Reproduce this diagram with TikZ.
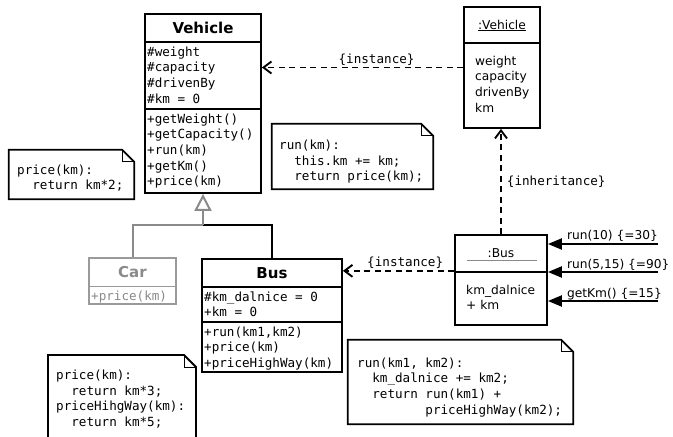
\documentclass[tikz,border=0pt]{standalone}
\usepackage{fontspec}
\setmainfont{DejaVu Sans}
\newfontfamily\mono{DejaVu Sans Mono}
\usetikzlibrary{arrows.meta,calc}

\newcommand\codefont{\mono\fontsize{12.6}{15.7}\selectfont}
\newcommand\sansfont{\fontsize{12.2}{15.7}\selectfont}
\newcommand\titlefont{\bfseries\fontsize{15}{18}\selectfont}

% folded-corner outline around an (invisible) note node
\newcommand\drawnote[1]{%
  \draw[noteline] (#1.south west) -- (#1.north west) -- ([xshift=-12pt]#1.north east)
    -- ([yshift=-12pt]#1.north east) -- (#1.south east) -- cycle;
  \draw[foldline] ([xshift=-12pt]#1.north east) |- ([yshift=-12pt]#1.north east);}

\definecolor{ghost}{HTML}{8A8A8A}
\definecolor{ghostline}{HTML}{9A9A9A}

% multi-line text nodes are placed by the baseline of their last line
\tikzset{
  box/.style={draw, line width=1.8pt, inner sep=0pt, fill=white},
  area/.style={inner sep=0pt},
  sep/.style={line width=1.4pt},
  code/.style={font=\codefont, align=left, inner sep=0pt, anchor=base west},
  sans/.style={font=\sansfont, align=left, inner sep=0pt, anchor=base west},
  title/.style={font=\titlefont, inner sep=0pt, anchor=base},
  noteline/.style={line width=1.8pt, line join=miter},
  foldline/.style={line width=1pt},
  dep/.style={line width=1.9pt, dash pattern=on 6pt off 4.5pt,
    -{Straight Barb[length=8pt,width=12pt,line width=1.9pt]}},
  msg/.style={line width=2.2pt, -{Triangle[length=14pt,width=11pt]}},
  genhead/.style={-{Triangle[open,length=17pt,width=17pt,line width=2pt,fill=white]}},
}

\begin{document}
\begin{tikzpicture}[x=1pt,y=-1pt]
\useasboundingbox (0,0) rectangle (673,437);

% ---------- class Vehicle ----------
\node[box, minimum width=116, minimum height=179] (vehicle) at (203,103.5) {};
\draw[sep] (vehicle.west |- 0,42) -- (vehicle.east |- 0,42);
\draw[sep] (vehicle.west |- 0,109) -- (vehicle.east |- 0,109);
\node[title] (vehT) at (203,33) {Vehicle};
\node[code] (vehA) at (147,103.1) {\#weight\\\#capacity\\\#drivenBy\\\#km = 0};
\node[code] (vehO) at (147,185.8) {+getWeight()\\+getCapacity()\\+run(km)\\+getKm()\\+price(km)};

% ---------- object :Vehicle ----------
\node[box, minimum width=76, minimum height=121] (vobj) at (502,67.5) {};
\draw[sep] (vobj.west |- 0,43) -- (vobj.east |- 0,43);
\node[font=\sansfont, inner sep=0pt, anchor=base] (vobjT) at (502,29) {\underline{:Vehicle}};
\node[sans] (vobjA) at (475,112.1) {weight\\capacity\\drivenBy\\km};

% ---------- class Car ----------
\node[draw=ghostline, line width=1.4pt, inner sep=0pt, fill=white,
      minimum width=87, minimum height=46] (car) at (132.5,281) {};
\draw[ghostline, line width=1pt] (car.west |- 0,286) -- (car.east |- 0,286);
\node[title, text=ghost] (carT) at (132.5,277.5) {Car};
\node[code, text=ghost] (carO) at (91,300) {+price(km)};

% ---------- class Bus ----------
\node[box, minimum width=140, minimum height=113] (bus) at (272,315.5) {};
\draw[sep] (bus.west |- 0,287) -- (bus.east |- 0,287);
\draw[sep] (bus.west |- 0,322) -- (bus.east |- 0,322);
\node[title] (busT) at (272,278.5) {Bus};
\node[code] (busA) at (204,316.7) {\#km\_dalnice = 0\\+km = 0};
\node[code] (busO) at (204,367.4) {+run(km1,km2)\\+price(km)\\+priceHighWay(km)};

% ---------- object :Bus ----------
\node[box, minimum width=92, minimum height=90] (busobj) at (501,280) {};
\draw[sep] (busobj.west |- 0,272) -- (busobj.east |- 0,272);
\node[font=\sansfont, inner sep=0pt, anchor=base] (busobjT) at (501,257) {:Bus};
\draw[ghost, line width=1.2pt] ([xshift=13pt,yshift=-26pt]busobj.north west)
  -- ([xshift=-11pt,yshift=-26pt]busobj.north east);
\node[sans] (busobjA) at (466,309.7) {km\_dalnice\\+ km};

% ---------- notes ----------
\node[area, minimum width=125, minimum height=49] (note1) at (71.5,174.5) {};
\drawnote{note1}
\node[code] (note1T) at (17,189.7) {price(km):\\\phantom{xx}return km*2;};

\node[area, minimum width=161, minimum height=65] (note2) at (352.5,156.5) {};
\drawnote{note2}
\node[code] (note2T) at (279,180.9) {run(km):\\\phantom{xx}this.km += km;\\\phantom{xx}return price(km);};

\node[area, minimum width=225, minimum height=84] (note4) at (460.5,382) {};
\drawnote{note4}
\node[code] (note4T) at (357,414.1) {run(km1, km2):\\\phantom{xx}km\_dalnice += km2;\\\phantom{xx}return run(km1) +\\\phantom{xxxxxxxxx}priceHighWay(km2);};

% note continuing past the lower edge
\coordinate (n3bl) at (48,440);
\coordinate (n3tl) at (48,355);
\coordinate (n3tr) at (196,355);
\coordinate (n3br) at (196,440);
\draw[noteline] (n3bl) -- (n3tl) -- ([xshift=-12pt]n3tr) -- ([yshift=-12pt]n3tr) -- (n3br);
\draw[foldline] ([xshift=-12pt]n3tr) |- ([yshift=-12pt]n3tr);
\node[code] (note3T) at (56,426.6) {price(km):\\\phantom{xx}return km*3;\\priceHihgWay(km):\\\phantom{xx}return km*5;};

% ---------- generalization ----------
\coordinate (gen) at (203,225);
\draw[ghost, line width=2pt] (car.north) |- (gen);
\draw[line width=2pt] (gen) -| (bus.north);
\draw[ghost, line width=2pt, genhead] (gen) -- (vehicle.south);

% ---------- dependencies ----------
\draw[dep] (vobj.west) -- (vobj.west -| vehicle.east)
  node[pos=0.43, above=1pt, font=\codefont, inner sep=0pt] (lblI1) {\{instance\}};
\coordinate (bi) at ($(busobj.north west)!0.4!(busobj.south west)$);
\draw[dep] (bi) -- (bi -| bus.east)
  node[pos=0.44, above=1pt, font=\codefont, inner sep=0pt] (lblI2) {\{instance\}};
\draw[dep] (busobj.north) -- (busobj.north |- vobj.south)
  node[pos=0.5, right=5pt, font=\codefont, inner sep=0pt] (lblInh) {\{inheritance\}};

% ---------- messages ----------
\coordinate (m1) at (658,244);
\coordinate (m2) at (658,272);
\coordinate (m3) at (658,301);
\draw[msg] (m1) -- (m1 -| busobj.east);
\draw[msg] (m2) -- (m2 -| busobj.east);
\draw[msg] (m3) -- (m3 -| busobj.east);
\node[sans] (msg1) at (567,239) {run(10) \{=30\}};
\node[sans] (msg2) at (567,268) {run(5,15) \{=90\}};
\node[sans] (msg3) at (567,297) {getKm() \{=15\}};

\end{tikzpicture}
\end{document}
